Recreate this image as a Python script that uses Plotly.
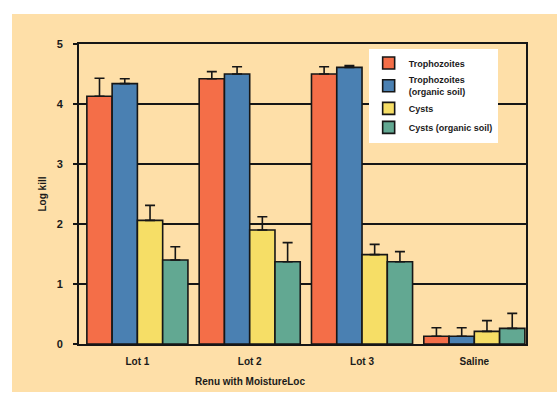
import plotly.graph_objects as go

# Categories and series
lots = ["Lot 1", "Lot 2", "Lot 3", "Saline"]
series_names = ["Trophozoites", "Trophozoites<br>(organic soil)", "Cysts", "Cysts (organic soil)"]

troph = [4.13, 4.42, 4.50, 0.13]
troph_err = [0.30, 0.12, 0.12, 0.14]
troph_soil = [4.34, 4.50, 4.61, 0.13]
troph_soil_err = [0.08, 0.12, 0.03, 0.14]
cysts = [2.06, 1.90, 1.49, 0.21]
cysts_err = [0.25, 0.22, 0.17, 0.18]
cysts_soil = [1.40, 1.37, 1.37, 0.26]
cysts_soil_err = [0.22, 0.32, 0.17, 0.25]

y_ticks = [0, 1, 2, 3, 4, 5]

values = [troph, troph_soil, cysts, cysts_soil]
errors = [troph_err, troph_soil_err, cysts_err, cysts_soil_err]
colors = ["#f46e48", "#4a80b2", "#f6de66", "#62a892"]

FAMILY = "Liberation Sans, Arial, sans-serif"

fig = go.Figure()
for name, vals, errs, col in zip(series_names, values, errors, colors):
    fig.add_trace(go.Bar(
        name=name,
        x=lots,
        y=vals,
        marker=dict(color=col, line=dict(color="#161616", width=1.6)),
        error_y=dict(type="data", array=errs, arrayminus=[0] * len(errs),
                     symmetric=False, color="#161616", thickness=1.6, width=5),
    ))

font_bold = dict(family=FAMILY, size=10, color="#1a1a1a", weight="bold")

fig.update_layout(
    width=557,
    height=394,
    margin=dict(l=79, r=31, t=44, b=50),
    barmode="group",
    bargap=0.1,
    bargroupgap=0,
    paper_bgcolor="white",
    plot_bgcolor="white",
    font=font_bold,
    showlegend=True,
    legend=dict(
        x=0.648, y=0.985, xanchor="left", yanchor="top",
        bgcolor="white", borderwidth=0,
        font=dict(family=FAMILY, size=9, color="#1a1a1a", weight="bold"),
        tracegroupgap=0, itemwidth=30,
    ),
    xaxis=dict(
        range=[-0.52, 3.46],
        showline=True, linecolor="#161616", linewidth=2, mirror=True,
        ticks="", showgrid=False,
        tickfont=font_bold,
        ticklabelstandoff=7,
    ),
    yaxis=dict(
        range=[0, 5],
        tickvals=y_ticks,
        ticktext=[str(t) for t in y_ticks],
        showline=True, linecolor="#161616", linewidth=2, mirror=True,
        ticks="outside", ticklen=4, tickcolor="#161616", tickwidth=1.5,
        showgrid=True, gridcolor="#161616", gridwidth=1.5,
        zeroline=False,
        ticklabelstandoff=8,
        tickfont=dict(family=FAMILY, size=11, color="#1a1a1a", weight="bold"),
        title=dict(text="Log kill", standoff=8,
                   font=dict(family=FAMILY, size=10, color="#1a1a1a", weight="bold")),
    ),
    shapes=[
        # peach background panel behind the plot area
        dict(type="rect", xref="paper", yref="paper", layer="below",
             x0=(12 - 79) / 447, x1=(557 - 79) / 447,
             y0=(344 - 392) / 300, y1=(344 - 14) / 300,
             fillcolor="#fedfa8", line=dict(width=0)),
    ],
    annotations=[
        dict(text="Renu with MoistureLoc", x="Lot 2", xref="x", y=-0.125, yref="paper",
             xanchor="center", yanchor="middle", showarrow=False,
             font=dict(family=FAMILY, size=10, color="#1a1a1a", weight="bold")),
    ],
)

fig.write_html("out.html")
